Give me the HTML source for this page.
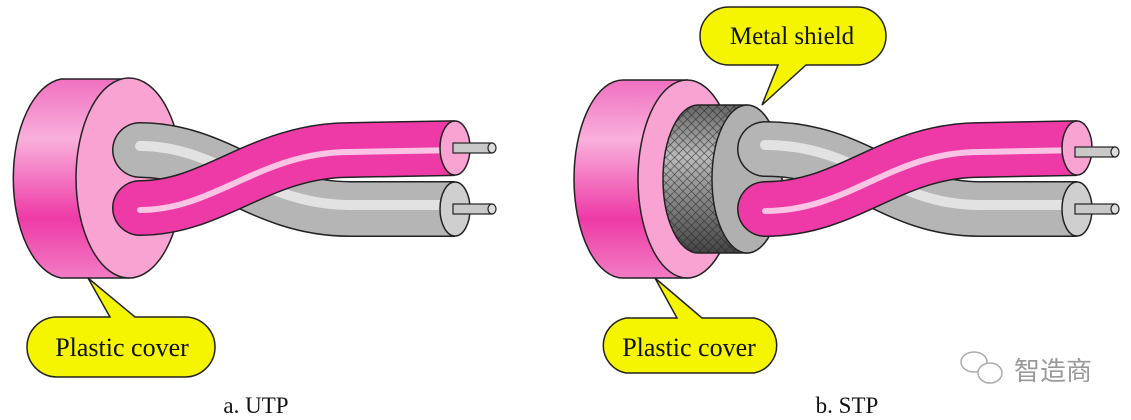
<!DOCTYPE html>
<html><head><meta charset="utf-8"><style>
html,body{margin:0;padding:0;background:#fff;}
svg{display:block;}
</style></head><body>
<svg width="1131" height="420" viewBox="0 0 1131 420" xmlns="http://www.w3.org/2000/svg">
<defs>
<linearGradient id="cyl" x1="0" y1="0" x2="0" y2="1">
<stop offset="0" stop-color="#f070c0"/><stop offset="0.3" stop-color="#f9b0dc"/><stop offset="0.7" stop-color="#ee3aa6"/><stop offset="1" stop-color="#f27cc4"/>
</linearGradient>
<linearGradient id="mesh" x1="0" y1="0" x2="0" y2="1">
<stop offset="0" stop-color="#666"/><stop offset="0.35" stop-color="#bbb"/><stop offset="1" stop-color="#444"/>
</linearGradient>
<pattern id="hatch" width="6" height="6" patternUnits="userSpaceOnUse" patternTransform="rotate(45)">
<path d="M0,0 L0,6 M0,0 L6,0" stroke="#222" stroke-width="1.2"/>
</pattern>
<clipPath id="c1"><rect x="0" y="0" width="455" height="420"/></clipPath>
<clipPath id="c2"><rect x="600" y="0" width="477" height="420"/></clipPath>
</defs>

<!-- ===== UTP ===== -->
<path d="M61,79 L129,79 A53,100 0 0 1 129,278 L61,278 A53,100 0 0 1 61,79 Z" fill="url(#cyl)" stroke="#222" stroke-width="1.5"/>
<ellipse cx="129" cy="178" rx="53" ry="100" fill="#f9a3d2" stroke="#222" stroke-width="1.5"/>
<g clip-path="url(#c1)">
<path d="M140,150 C220,150 260,209 350,209 L460,209" fill="none" stroke="#222" stroke-width="56" stroke-linecap="round"/>
<path d="M140,150 C220,150 260,209 350,209 L460,209" fill="none" stroke="#b5b5b5" stroke-width="53" stroke-linecap="round"/>
<path d="M140,146 C220,146 260,205 350,205 L460,205" fill="none" stroke="#e2e2e2" stroke-width="10" stroke-linecap="round"/>
<path d="M140,208 C215,208 260,150 350,150 L460,148" fill="none" stroke="#222" stroke-width="56" stroke-linecap="round"/>
<path d="M140,208 C215,208 260,150 350,150 L460,148" fill="none" stroke="#ee3aa6" stroke-width="53" stroke-linecap="round"/>
<path d="M140,210 C215,210 260,152 350,152 L460,150" fill="none" stroke="#fbc4e4" stroke-width="6" stroke-linecap="round"/>
</g>
<ellipse cx="455" cy="148" rx="15" ry="27" fill="#f9a3d2" stroke="#222" stroke-width="1.5"/>
<ellipse cx="455" cy="209" rx="15" ry="27" fill="#cfcfcf" stroke="#222" stroke-width="1.5"/>
<rect x="453" y="143" width="39" height="10" fill="#c9c9c9" stroke="#222" stroke-width="1.2"/>
<ellipse cx="492" cy="148" rx="4" ry="5" fill="#ddd" stroke="#222" stroke-width="1.2"/>
<rect x="453" y="204" width="39" height="10" fill="#c9c9c9" stroke="#222" stroke-width="1.2"/>
<ellipse cx="492" cy="209" rx="4" ry="5" fill="#ddd" stroke="#222" stroke-width="1.2"/>
<path d="M58,317 L110,317 L88,278 L135,317 L185,317 A30,30 0 0 1 185,377 L57,377 A30,30 0 0 1 57,317 Z" fill="#f5f500" stroke="#222" stroke-width="1.5"/>
<text x="122" y="356" font-family="Liberation Serif, serif" font-size="26" text-anchor="middle" fill="#111">Plastic cover</text>
<text x="256" y="413" font-family="Liberation Serif, serif" font-size="23" text-anchor="middle" fill="#111">a. UTP</text>

<!-- ===== STP ===== -->
<path d="M623,80 L687,80 A49,99 0 0 1 687,278 L623,278 A49,99 0 0 1 623,80 Z" fill="url(#cyl)" stroke="#222" stroke-width="1.5"/>
<ellipse cx="687" cy="179" rx="49" ry="99" fill="#f9a3d2" stroke="#222" stroke-width="1.5"/>
<path d="M698,105 L747,105 A35,74 0 0 1 747,253 L698,253 A35,74 0 0 1 698,105 Z" fill="url(#mesh)" stroke="#222" stroke-width="1.5"/>
<path d="M698,105 L747,105 A35,74 0 0 1 747,253 L698,253 A35,74 0 0 1 698,105 Z" fill="url(#hatch)" opacity="0.8"/>
<ellipse cx="747" cy="179" rx="35" ry="74" fill="#b0b0b0" stroke="#222" stroke-width="1.5"/>
<g clip-path="url(#c2)">
<path d="M765,149 C860,149 890,209 980,209 L1082,209" fill="none" stroke="#222" stroke-width="56" stroke-linecap="round"/>
<path d="M765,149 C860,149 890,209 980,209 L1082,209" fill="none" stroke="#b5b5b5" stroke-width="53" stroke-linecap="round"/>
<path d="M765,145 C860,145 890,205 980,205 L1082,205" fill="none" stroke="#e2e2e2" stroke-width="10" stroke-linecap="round"/>
<path d="M765,209 C850,209 890,150 980,150 L1082,148" fill="none" stroke="#222" stroke-width="56" stroke-linecap="round"/>
<path d="M765,209 C850,209 890,150 980,150 L1082,148" fill="none" stroke="#ee3aa6" stroke-width="53" stroke-linecap="round"/>
<path d="M765,211 C850,211 890,152 980,152 L1082,150" fill="none" stroke="#fbc4e4" stroke-width="6" stroke-linecap="round"/>
</g>
<ellipse cx="1077" cy="148" rx="15" ry="27" fill="#f9a3d2" stroke="#222" stroke-width="1.5"/>
<ellipse cx="1077" cy="209" rx="15" ry="27" fill="#cfcfcf" stroke="#222" stroke-width="1.5"/>
<rect x="1075" y="147" width="40" height="10" fill="#c9c9c9" stroke="#222" stroke-width="1.2"/>
<ellipse cx="1115" cy="152" rx="4" ry="5" fill="#ddd" stroke="#222" stroke-width="1.2"/>
<rect x="1075" y="204" width="40" height="10" fill="#c9c9c9" stroke="#222" stroke-width="1.2"/>
<ellipse cx="1115" cy="209" rx="4" ry="5" fill="#ddd" stroke="#222" stroke-width="1.2"/>
<path d="M729,7 L857,7 A29,29 0 0 1 857,65 L806,65 L762,105 L778,65 L729,65 A29,29 0 0 1 729,7 Z" fill="#f5f500" stroke="#222" stroke-width="1.5"/>
<text x="792" y="44" font-family="Liberation Serif, serif" font-size="25" text-anchor="middle" fill="#111">Metal shield</text>
<path d="M626,318 L677,318 L655,278 L702,318 L754,318 A28,28 0 0 1 754,373 L626,373 A28,28 0 0 1 626,318 Z" fill="#f5f500" stroke="#222" stroke-width="1.5"/>
<text x="689" y="356" font-family="Liberation Serif, serif" font-size="26" text-anchor="middle" fill="#111">Plastic cover</text>
<text x="847" y="413" font-family="Liberation Serif, serif" font-size="23" text-anchor="middle" fill="#111">b. STP</text>

<g fill="none" stroke="#aaa" stroke-width="1.5">
<ellipse cx="974" cy="362" rx="13" ry="10"/>
<ellipse cx="990" cy="373" rx="12" ry="10" fill="#fff"/>
</g>
<text x="1053" y="380" font-family="Noto Sans CJK SC, sans-serif" font-size="26" text-anchor="middle" fill="#999">智造商</text>
</svg>
</body></html>
